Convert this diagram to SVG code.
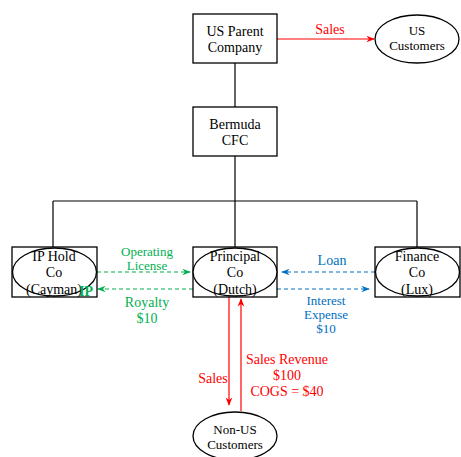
<svg xmlns="http://www.w3.org/2000/svg" width="461" height="457" viewBox="0 0 461 457">
<defs>
<style>
text{font-family:"Liberation Serif","DejaVu Serif",serif;font-size:14px;text-anchor:middle}
.box{fill:#fff;stroke:#000;stroke-width:1.3}
.ell{fill:#fff;stroke:#000;stroke-width:1.3}
.ln{stroke:#000;stroke-width:1.2;fill:none}
.red{stroke:#ff0000;stroke-width:1.2;fill:none}
.grn{stroke:#00b050;stroke-width:1.2;fill:none;stroke-dasharray:4 3}
.blu{stroke:#0070c0;stroke-width:1.2;fill:none;stroke-dasharray:4 3}
.tr{fill:#ff0000}.tg{fill:#00b050}.tb{fill:#0070c0}
</style>
<marker id="ar" viewBox="0 0 10 10" refX="9" refY="5" markerWidth="7" markerHeight="7" orient="auto"><path d="M0,1 L10,5 L0,9 L3,5 z" fill="#ff0000"/></marker>
<marker id="ag" viewBox="0 0 10 10" refX="9" refY="5" markerWidth="7" markerHeight="7" orient="auto"><path d="M0,1 L10,5 L0,9 L3,5 z" fill="#00b050"/></marker>
<marker id="ab" viewBox="0 0 10 10" refX="9" refY="5" markerWidth="7" markerHeight="7" orient="auto"><path d="M0,1 L10,5 L0,9 L3,5 z" fill="#0070c0"/></marker>
</defs>
<rect width="461" height="457" fill="#fff"/>
<g id="connectors">
<path class="ln" d="M235,63 V107 M235,156 V201 M53,201 H417 M53,201 V247 M235,201 V247 M417,201 V247"/>
<path class="red" d="M277,39 H374" marker-end="url(#ar)"/>
<path class="grn" d="M97,272 H190" marker-end="url(#ag)"/>
<path class="grn" d="M193,289 H98" marker-end="url(#ag)"/>
<path class="blu" d="M375,272 H282" marker-end="url(#ab)"/>
<path class="blu" d="M277,289 H369" marker-end="url(#ab)"/>
<path class="red" d="M229,297 V405" marker-end="url(#ar)"/>
<path class="red" d="M241,411 V299" marker-end="url(#ar)"/>
<text x="330" y="34" class="tr">Sales</text>
<text x="147" y="256" class="tg" style="font-size:13px">Operating</text>
<text x="147" y="270" class="tg" style="font-size:13px">License</text>
<text x="147" y="307" class="tg">Royalty</text>
<text x="147" y="323" class="tg">$10</text>
<text x="332" y="265" class="tb">Loan</text>
<text x="326" y="305" class="tb" style="font-size:13px">Interest</text>
<text x="326" y="319" class="tb" style="font-size:13px">Expense</text>
<text x="326" y="333" class="tb" style="font-size:13px">$10</text>
<text x="213" y="383" class="tr">Sales</text>
<text x="287" y="364" class="tr">Sales Revenue</text>
<text x="287" y="380" class="tr">$100</text>
<text x="287" y="396" class="tr">COGS = $40</text>
</g>
<g id="us-parent">
<rect class="box" x="193" y="14" width="84" height="49"/>
<text x="235" y="36">US Parent</text>
<text x="235" y="52">Company</text>
</g>
<g id="us-customers">
<ellipse class="ell" cx="417" cy="39" rx="42" ry="24"/>
<text x="417" y="35" style="font-size:13px">US</text>
<text x="417" y="50" style="font-size:13px">Customers</text>
</g>
<g id="bermuda">
<rect class="box" x="193" y="107" width="84" height="49"/>
<text x="235" y="129">Bermuda</text>
<text x="235" y="145">CFC</text>
</g>
<g id="ip-hold">
<rect class="box" x="12" y="247" width="85" height="50"/>
<ellipse class="ell" cx="54.5" cy="272" rx="42" ry="24"/>
<text x="54" y="261">IP Hold</text>
<text x="54" y="277">Co</text>
<text x="54" y="294">(Cayman)</text>
</g>
<g id="principal">
<rect class="box" x="193" y="247" width="84" height="50"/>
<ellipse class="ell" cx="235" cy="272" rx="42" ry="24"/>
<text x="235" y="261">Principal</text>
<text x="235" y="277">Co</text>
<text x="235" y="294">(Dutch)</text>
</g>
<g id="finance">
<rect class="box" x="375" y="247" width="85" height="50"/>
<ellipse class="ell" cx="417.5" cy="272" rx="42" ry="24"/>
<text x="417" y="261">Finance</text>
<text x="417" y="277">Co</text>
<text x="417" y="294">(Lux)</text>
</g>
<g id="non-us-customers">
<ellipse class="ell" cx="235" cy="436" rx="42" ry="24"/>
<text x="235" y="434" style="font-size:13px">Non-US</text>
<text x="235" y="449" style="font-size:13px">Customers</text>
</g>
<text x="86" y="296" class="tg" style="font-weight:bold">IP</text>
</svg>
